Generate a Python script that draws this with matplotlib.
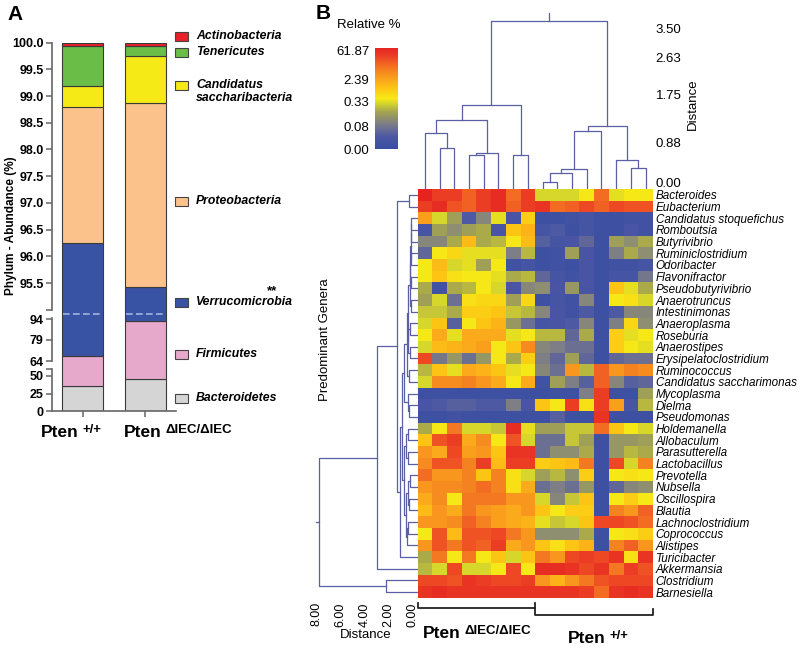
import numpy as np
import matplotlib
matplotlib.use("Agg")
import matplotlib.pyplot as plt
from matplotlib.colors import LinearSegmentedColormap
from matplotlib.patches import Rectangle

plt.rcParams["font.family"] = "Liberation Sans"

W, H = 800, 649

# ---------------- Panel A data (phylum abundance, %) ----------------
phyla = ["Bacteroidetes", "Firmicutes", "Verrucomicrobia", "Proteobacteria",
         "Candidatus saccharibacteria", "Tenericutes", "Actinobacteria"]
phylum_colors = ["#d5d5d5", "#e6a9cb", "#3953a4", "#fbc38b",
                 "#f6ea16", "#6abd46", "#e8212a"]
pten_wt = [36.0, 31.6, 28.64, 2.56, 0.38, 0.75, 0.07]
pten_ko = [45.3, 47.3, 2.83, 3.45, 0.87, 0.19, 0.06]

ytick_vals = [0, 25, 50, 60, 64, 79, 94, 95, 95.5, 96.0, 96.5, 97.0, 97.5,
              98.0, 98.5, 99.0, 99.5, 100.0]
ytick_text = ["0", "25", "50", "", "64", "79", "94", "", "95.5", "96.0", "96.5",
              "97.0", "97.5", "98.0", "98.5", "99.0", "99.5", "100.0"]

# broken axis: value breakpoints -> height (px) above the zero line
brk_val = [0, 60, 64, 94.5, 95.0, 100]
brk_pos = [0, 42, 50, 92.7, 101.3, 368.3]

# ---------------- Panel B data ----------------
genera = ["Bacteroides", "Eubacterium", "Candidatus stoquefichus", "Romboutsia",
          "Butyrivibrio", "Ruminiclostridium", "Odoribacter", "Flavonifractor",
          "Pseudobutyrivibrio", "Anaerotruncus", "Intestinimonas", "Anaeroplasma",
          "Roseburia", "Anaerostipes", "Erysipelatoclostridium", "Ruminococcus",
          "Candidatus saccharimonas", "Mycoplasma", "Dielma", "Pseudomonas",
          "Holdemanella", "Allobaculum", "Parasutterella", "Lactobacillus",
          "Prevotella", "Nubsella", "Oscillospira", "Blautia", "Lachnoclostridium",
          "Coprococcus", "Alistipes", "Turicibacter", "Akkermansia", "Clostridium",
          "Barnesiella"]

# position on the colour scale (0 = 0.00 %, 4 = 61.87 %), 8 KO + 8 WT samples
levels = np.array([
    [4.0, 3.7, 3.7, 3.4, 3.7, 3.9, 3.3, 3.7, 1.8, 1.8, 1.8, 2.0, 3.3, 1.9, 2.0, 2.0],
    [3.7, 3.9, 3.5, 3.4, 3.7, 3.9, 3.4, 3.7, 3.8, 3.3, 3.4, 3.6, 3.4, 3.6, 3.5, 3.5],
    [2.8, 1.8, 1.4, 0.5, 1.1, 1.9, 0.4, 2.3, 0.1, 0.1, 0.2, 0.3, 0.1, 0.1, 0.2, 0.2],
    [0.3, 1.4, 1.2, 1.4, 1.5, 0.4, 2.4, 2.6, 0.3, 0.5, 0.1, 0.3, 0.1, 0.1, 0.4, 0.2],
    [1.1, 1.1, 1.5, 2.5, 1.5, 1.6, 2.0, 2.5, 0.6, 0.3, 0.4, 0.7, 0.1, 1.4, 1.2, 1.5],
    [0.7, 2.0, 2.2, 1.9, 1.9, 1.9, 1.0, 1.6, 0.1, 0.2, 1.4, 0.4, 0.1, 1.0, 1.5, 1.2],
    [2.0, 2.5, 1.8, 1.9, 1.4, 2.0, 0.2, 0.3, 0.1, 0.2, 0.1, 0.4, 0.1, 0.2, 0.2, 0.3],
    [2.0, 2.4, 2.1, 2.0, 2.0, 1.9, 1.5, 1.6, 0.7, 0.3, 0.2, 0.4, 0.1, 0.3, 0.3, 0.9],
    [1.5, 0.2, 1.5, 1.6, 2.0, 1.8, 0.4, 1.1, 1.2, 0.4, 1.3, 0.4, 0.1, 2.4, 1.9, 1.5],
    [1.4, 1.8, 0.8, 2.1, 2.2, 2.2, 1.4, 2.2, 0.1, 0.3, 0.2, 1.1, 0.1, 2.0, 2.1, 1.8],
    [1.7, 1.7, 1.5, 2.3, 2.3, 2.4, 1.7, 1.6, 1.1, 0.4, 0.2, 0.5, 0.1, 0.5, 1.1, 1.1],
    [1.8, 2.4, 0.6, 2.0, 2.4, 2.6, 1.3, 0.8, 0.3, 0.4, 0.5, 1.1, 0.1, 1.0, 2.2, 1.2],
    [2.0, 2.7, 1.9, 2.7, 2.7, 2.7, 1.9, 2.0, 1.6, 1.6, 0.7, 1.5, 0.1, 2.3, 1.9, 2.0],
    [1.8, 2.5, 2.6, 2.7, 2.8, 2.0, 2.4, 3.0, 1.1, 1.0, 0.8, 0.8, 0.1, 2.3, 2.0, 1.9],
    [3.6, 0.9, 1.3, 0.8, 1.3, 2.0, 1.5, 2.3, 1.0, 0.7, 1.4, 0.7, 0.1, 0.7, 0.8, 0.8],
    [1.6, 2.4, 1.9, 2.7, 2.6, 2.4, 1.9, 2.0, 1.1, 0.8, 2.9, 1.6, 3.4, 2.9, 3.1, 3.0],
    [1.8, 3.0, 3.0, 3.1, 2.9, 2.7, 2.0, 2.7, 0.2, 1.4, 1.0, 0.6, 3.4, 1.1, 0.6, 0.7],
    [0.1, 0.1, 0.1, 0.1, 0.1, 0.1, 0.1, 0.1, 0.1, 0.1, 0.1, 1.0, 3.7, 0.1, 0.1, 1.4],
    [0.4, 0.5, 0.6, 0.6, 0.5, 0.5, 1.0, 0.4, 2.4, 2.0, 3.7, 2.1, 3.7, 2.8, 0.4, 1.6],
    [0.1, 0.1, 0.2, 0.1, 0.1, 0.1, 0.1, 0.1, 0.1, 0.6, 0.1, 0.1, 3.8, 0.1, 0.1, 0.1],
    [1.5, 2.0, 3.2, 1.8, 1.8, 1.7, 3.9, 1.9, 1.4, 1.4, 1.7, 1.7, 3.3, 2.4, 2.0, 1.8],
    [2.4, 3.5, 3.7, 2.7, 3.0, 2.0, 3.5, 1.8, 0.8, 0.8, 1.7, 1.4, 0.1, 1.3, 1.3, 1.4],
    [2.9, 2.7, 3.6, 2.8, 2.9, 2.4, 3.8, 3.8, 0.8, 1.2, 1.2, 1.5, 0.1, 1.3, 1.6, 1.5],
    [3.0, 3.5, 3.5, 3.1, 3.7, 2.5, 3.7, 3.7, 2.3, 2.4, 2.5, 3.2, 0.1, 3.6, 1.8, 3.1],
    [3.3, 2.9, 2.9, 3.1, 2.4, 3.1, 2.1, 1.8, 1.4, 1.6, 1.2, 2.3, 0.1, 2.0, 2.1, 2.0],
    [2.9, 3.0, 3.0, 3.1, 3.3, 3.1, 2.1, 2.7, 0.8, 1.0, 0.8, 1.3, 0.1, 0.7, 1.1, 1.2],
    [2.7, 3.0, 2.0, 3.2, 3.2, 3.2, 2.9, 2.9, 1.8, 1.1, 1.7, 2.4, 0.1, 2.0, 2.3, 2.0],
    [2.5, 2.9, 2.7, 3.2, 2.9, 2.8, 2.7, 2.9, 2.4, 2.0, 2.3, 2.3, 0.1, 3.1, 2.9, 3.4],
    [2.9, 2.9, 3.0, 3.4, 3.1, 2.8, 2.7, 2.6, 1.9, 1.7, 1.8, 2.4, 3.6, 3.6, 3.5, 3.3],
    [2.0, 3.5, 2.5, 3.5, 3.5, 3.6, 3.2, 2.9, 1.2, 1.2, 1.2, 1.5, 0.1, 2.0, 2.1, 2.3],
    [2.9, 3.5, 3.2, 3.5, 3.4, 3.7, 2.7, 2.9, 2.4, 2.1, 2.4, 2.6, 0.1, 3.1, 3.4, 2.9],
    [1.5, 3.2, 2.0, 3.2, 2.0, 2.4, 1.8, 2.4, 3.2, 2.9, 3.6, 3.7, 3.6, 3.8, 2.1, 3.8],
    [1.6, 1.8, 3.6, 1.8, 1.8, 2.0, 3.6, 2.0, 3.9, 3.9, 3.8, 3.6, 3.8, 3.2, 3.7, 3.5],
    [3.6, 3.6, 3.5, 3.8, 3.7, 3.6, 3.6, 3.7, 2.9, 2.6, 2.9, 3.2, 3.5, 3.6, 3.6, 3.6],
    [3.8, 3.9, 3.8, 3.8, 3.8, 3.8, 3.8, 3.8, 3.8, 3.8, 3.8, 3.7, 3.3, 3.8, 3.9, 3.8],
])

cbar_ticks = [0.0, 0.87, 1.86, 2.76, 3.9]
cbar_labels = ["0.00", "0.08", "0.33", "2.39", "61.87"]

# sample clustering: [left, right, merge height]
col_tree = [[[[0, [1, 2, 0.93], 1.27], [[3, 4, 0.78], 5, 0.82], 1.55], [6, 7, 0.77], 1.91],
            [[[[[8, 9, 0.15], 10, 0.36], 11, 0.46], 12, 1.31], [13, [14, 15, 0.47], 0.66], 1.43],
            3.81]
top_ticks = [0.14, 1.05, 2.13, 2.98, 3.64]
top_labels = ["0.00", "0.88", "1.75", "2.63", "3.50"]

# genus clustering
u_top = [[[[[[2, 3, 0.08], 4, 0.10], [5, 6, 0.08], 0.12], [7, 8, 0.10], 0.15], [9, 10, 0.12], 0.18],
         [[11, 12, 0.15], [13, 14, 0.20], 0.30], 0.35]
u_grp = [[u_top, [15, 16, 0.25], 0.45], [17, [18, 19, 0.25], 0.32], 0.70]
l_grp = [[[20, 21, 0.35], [22, 23, 0.30], 0.55],
         [[[24, 25, 0.20], [26, 27, 0.25], 0.35], [[28, 29, 0.30], 30, 0.45], 0.55], 0.65]
row_tree = [[[[0, 1, 0.25], [[u_grp, l_grp, 0.85], 31, 1.01], 1.26], 32, 2.95],
            [33, 34, 2.20], 7.85]
left_ticks = [0, 2, 4, 6, 8]

tree_color = "#5b5fa6"


def box(x0, y0, x1, y1):
    return [x0 / W, 1 - y1 / H, (x1 - x0) / W, (y1 - y0) / H]


def draw_tree(ax, node, leaf_h, top):
    if isinstance(node, int):
        return node + 0.5, leaf_h
    a, b, h = node
    pa, ha = draw_tree(ax, a, leaf_h, top)
    pb, hb = draw_tree(ax, b, leaf_h, top)
    p = [pa, pa, pb, pb]
    q = [ha, h, h, hb]
    if top:
        ax.plot(p, q, color=tree_color, lw=0.9)
    else:
        ax.plot(q, p, color=tree_color, lw=0.9)
    return (pa + pb) / 2, h


fig = plt.figure(figsize=(8, 6.49), dpi=100)

# ================= Panel A =================
ax_a = fig.add_axes(box(52, 42.7, 176, 411))
ax_a.set_yscale("function", functions=(lambda v: np.interp(v, brk_val, brk_pos),
                                       lambda p: np.interp(p, brk_pos, brk_val)))
x = np.array([0, 1])
bw = 0.656
bottom = np.zeros(2)
for i, name in enumerate(phyla):
    vals = np.array([pten_wt[i], pten_ko[i]])
    ax_a.bar(x, vals, bw, bottom=bottom, color=phylum_colors[i],
             edgecolor="#3a3a3a", linewidth=0.8)
    bottom = bottom + vals
for xi in x:
    ax_a.plot([xi - bw / 2 + 0.02, xi + bw / 2 - 0.02], [94.75, 94.75],
              color="#9fb3df", lw=1.2, ls=(0, (4, 2)))
ax_a.set_ylim(0, 100)
ax_a.set_xlim(-0.488, 1.496)
ax_a.set_yticks(ytick_vals)
ax_a.set_yticklabels(ytick_text)
ax_a.tick_params(axis="y", length=4, width=1.1, color="#666666", pad=2,
                 labelsize=9)
for lab in ax_a.get_yticklabels():
    lab.set_fontweight("bold")
ax_a.set_xticks(x)
ax_a.set_xticklabels([])
ax_a.tick_params(axis="x", length=4, width=1.1, color="#666666")
ax_a.spines["left"].set_visible(False)
ax_a.spines["top"].set_visible(False)
ax_a.spines["right"].set_visible(False)
ax_a.spines["bottom"].set_color("#666666")
ax_a.spines["bottom"].set_linewidth(1.2)
for lo, hi in [(0, 60), (64, 94.5), (95, 100)]:
    ax_a.plot([0, 0], [lo, hi], transform=ax_a.get_yaxis_transform(),
              color="#666666", lw=1.2, clip_on=False)

fig.text(11 / W, 1 - 226 / H, "Phylum - Abundance (%)", rotation=90,
         fontsize=8.5, fontweight="bold", ha="center", va="center")
fig.text(7 / W, 1 - 5 / H, "A", fontsize=15, fontweight="bold", va="top")

# legend of panel A
legend_y = [398, 354, 302, 201, 85, 52, 36]
legend_txt = ["Bacteroidetes", "Firmicutes", "Verrucomicrobia", "Proteobacteria",
              "Candidatus\nsaccharibacteria", "Tenericutes", "Actinobacteria"]
for yy, txt, col in zip(legend_y, legend_txt, phylum_colors):
    fig.add_artist(Rectangle((175 / W, 1 - (yy + 4.5) / H), 13 / W, 9 / H,
                             facecolor=col, edgecolor="#444444", lw=0.8,
                             transform=fig.transFigure))
    fig.text(196 / W, 1 - (yy - 6) / H, txt, fontsize=8.8, fontweight="bold",
             fontstyle="italic", va="top", ha="left", linespacing=1.15)
fig.text(272 / W, 1 - 291 / H, "**", fontsize=9.5, fontweight="bold",
         ha="center", va="center")


def pten_label(x0, y0, sup):
    t = fig.text(x0 / W, 1 - y0 / H, "Pten", fontsize=12.5, fontweight="bold",
                 ha="left", va="baseline")
    ax_a.annotate(sup, xy=(1, 1), xycoords=t, xytext=(3, 1),
                  textcoords="offset points", fontsize=9.5, fontweight="bold",
                  ha="left", va="top", annotation_clip=False)


pten_label(41, 437, "+/+")
pten_label(124, 437, "ΔIEC/ΔIEC")

# ================= Panel B =================
cmap = LinearSegmentedColormap.from_list("rel", [
    (0.0, "#3a4ea1"), (0.12, "#4c57a5"), (0.25, "#7e7e86"), (0.37, "#a6a64e"),
    (0.45, "#d6d62a"), (0.5, "#f6e817"), (0.6, "#fdc513"), (0.68, "#faa81b"),
    (0.76, "#f6891f"), (0.85, "#f16223"), (0.92, "#eb3e24"), (1.0, "#e52421")])

ax_h = fig.add_axes(box(417.5, 189, 653, 598))
mesh = ax_h.pcolormesh(np.arange(levels.shape[1] + 1), np.arange(levels.shape[0] + 1),
                       levels, cmap=cmap, vmin=0, vmax=4, shading="flat")
ax_h.set_xlim(0, 16)
ax_h.set_ylim(35, 0)
ax_h.set_xticks([])
ax_h.yaxis.tick_right()
ax_h.set_yticks(np.arange(len(genera)) + 0.5)
ax_h.set_yticklabels(genera, fontstyle="italic", fontsize=8.4)
ax_h.tick_params(axis="y", length=0, pad=2)
for s in ax_h.spines.values():
    s.set_visible(False)

# group brackets under the heatmap
ax_h.plot([0, 0, 8, 8], [35.4, 35.85, 35.85, 35.4], color="#222222", lw=1.3,
          clip_on=False)
ax_h.plot([8, 8, 16, 16], [35.85, 36.45, 36.45, 35.9], color="#222222", lw=1.3,
          clip_on=False)
t1 = fig.text(423 / W, 1 - 638 / H, "Pten", fontsize=12.5, fontweight="bold",
              va="baseline")
ax_h.annotate("ΔIEC/ΔIEC", xy=(1, 1), xycoords=t1, xytext=(3, 1),
              textcoords="offset points", fontsize=9.5, fontweight="bold",
              ha="left", va="top", annotation_clip=False)
t2 = fig.text(568 / W, 1 - 643 / H, "Pten", fontsize=12.5, fontweight="bold",
              va="baseline")
ax_h.annotate("+/+", xy=(1, 1), xycoords=t2, xytext=(3, 1),
              textcoords="offset points", fontsize=9.5, fontweight="bold",
              ha="left", va="top", annotation_clip=False)

# top (sample) dendrogram
ax_t = fig.add_axes(box(417.5, 0, 653, 189))
rp, rh = draw_tree(ax_t, col_tree, 0.0, True)
ax_t.plot([rp, rp], [rh, rh + 0.18], color=tree_color, lw=0.9)
ax_t.set_xlim(0, 16)
ax_t.set_ylim(0, 189 / 44.2)
ax_t.set_xticks([])
ax_t.yaxis.tick_right()
ax_t.set_yticks(top_ticks)
ax_t.set_yticklabels(top_labels, fontsize=9.5)
ax_t.tick_params(axis="y", length=0, pad=2)
for s in ax_t.spines.values():
    s.set_visible(False)
fig.text(693 / W, 1 - 104 / H, "Distance", rotation=90, fontsize=9.5,
         ha="center", va="center")

# left (genus) dendrogram
ax_l = fig.add_axes(box(300, 189, 417.5, 598))
rp, rh = draw_tree(ax_l, row_tree, -0.46, False)
ax_l.plot([rh, rh + 0.2], [rp, rp], color=tree_color, lw=0.9)
ax_l.set_xlim(9.43, -0.46)
ax_l.set_ylim(35, 0)
ax_l.set_yticks([])
ax_l.set_xticks(left_ticks)
ax_l.set_xticklabels(["%.2f" % v for v in left_ticks], rotation=90, fontsize=9)
ax_l.tick_params(axis="x", length=0, pad=3)
for s in ax_l.spines.values():
    s.set_visible(False)
fig.text(366 / W, 1 - 635 / H, "Distance", fontsize=9.5, ha="center", va="center")
fig.text(325 / W, 1 - 340 / H, "Predominant Genera", rotation=90, fontsize=9.5,
         ha="center", va="center")

# colour bar
cax = fig.add_axes(box(375, 47.7, 398, 149))
cb = fig.colorbar(mesh, cax=cax)
cb.outline.set_visible(False)
cax.yaxis.set_ticks_position("left")
cb.set_ticks(cbar_ticks)
cb.set_ticklabels(cbar_labels)
cax.tick_params(length=0, pad=4, labelsize=9.5)
fig.text(369 / W, 1 - 25 / H, "Relative %", fontsize=9.5, ha="center", va="center")
fig.text(316 / W, 1 - 4 / H, "B", fontsize=15, fontweight="bold", va="top")

fig.savefig("out.png", dpi=100)
